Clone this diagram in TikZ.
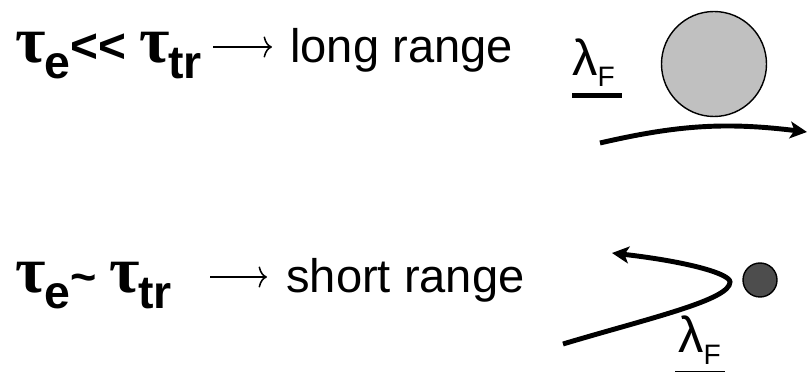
\RequirePackage{fix-cm}
\documentclass[tikz,border=0pt]{standalone}
\usepackage[no-math]{fontspec}
\setmainfont{Liberation Sans}
\newfontfamily\grfont{Liberation Serif}
\usepackage{tikz}
\usetikzlibrary{arrows.meta, positioning}

\newcommand{\tauT}{{\grfont\bfseries\fontsize{47}{47}\selectfont τ}\kern-1pt}
\newcommand{\subB}[1]{\raisebox{-10.7pt}{\fontsize{33}{33}\selectfont\bfseries #1}}
\newcommand{\lamF}{{\fontsize{36}{36}\selectfont λ}\raisebox{-8pt}{\fontsize{20}{20}\selectfont F}}

\begin{document}
\begin{tikzpicture}[
    txt/.style={anchor=base west, inner sep=0pt, font=\fontsize{33.5}{40}\selectfont},
    implies/.style={line width=1.1pt, -{To[length=6pt, width=15pt]}},
    traj/.style={line width=3.5pt, -{Stealth[length=12pt, width=12pt, inset=3pt]}},
    ball/.style={circle, draw, line width=1pt, inner sep=0pt}]
    % Màu của hai vật tán xạ
    \definecolor{lightball}{RGB}{192, 192, 192}
    \definecolor{darkball}{RGB}{77, 77, 77}

    \useasboundingbox (0,0) rectangle (20.2,9.3);

    % 1. Trường hợp tầm xa
    \node[txt] (cond1) at (0.375,7.725)
        {\tauT\subB{e}{\fontsize{34}{34}\selectfont\bfseries<\kern0pt<} \tauT\subB{tr}};
    \coordinate (a1s) at (5.325,8.125);
    \coordinate (a1e) at (6.8,8.125);
    \draw[implies] (a1s) -- (a1e);
    \node[txt] (res1) at (7.25,7.725) {long range};
    \node[txt] (lam1) at (14.3,7.4125) {\lamF};
    \draw[line width=3.5pt] (14.3,6.9125) -- (15.55,6.9125);

    \node[ball, fill=lightball, minimum size=2.625cm] (big) at (17.85,7.7) {};
    \coordinate (in1) at (15.0,5.725);
    \coordinate (out1) at (20.175,6.0);
    \draw[traj] (in1) to[bend left=10] (out1);

    % 2. Trường hợp tầm gần
    \node[txt] (cond2) at (0.375,1.975)
        {\tauT\subB{e}{\fontsize{32}{32}\selectfont\bfseries\textasciitilde} \tauT\subB{tr}};
    \coordinate (a2s) at (5.25,2.375);
    \coordinate (a2e) at (6.675,2.375);
    \draw[implies] (a2s) -- (a2e);
    \node[txt] (res2) at (7.15,1.975) {short range};

    \node[ball, fill=darkball, minimum size=0.85cm] (small) at (19.0,2.3) {};
    \coordinate (in2) at (14.075,0.7);
    \coordinate (turn) at (18.25,2.25);
    \coordinate (out2) at (15.3,2.975);
    \draw[traj] (in2) .. controls (16.25,1.35) and (18.25,1.8) .. (turn)
        .. controls (18.25,2.45) and (17.25,2.75) .. (out2);

    \node[txt] (lam2) at (16.95,0.475) {\lamF};
    \draw[line width=3.5pt] (16.875,-0.025) -- (18.125,-0.025);
\end{tikzpicture}
\end{document}
